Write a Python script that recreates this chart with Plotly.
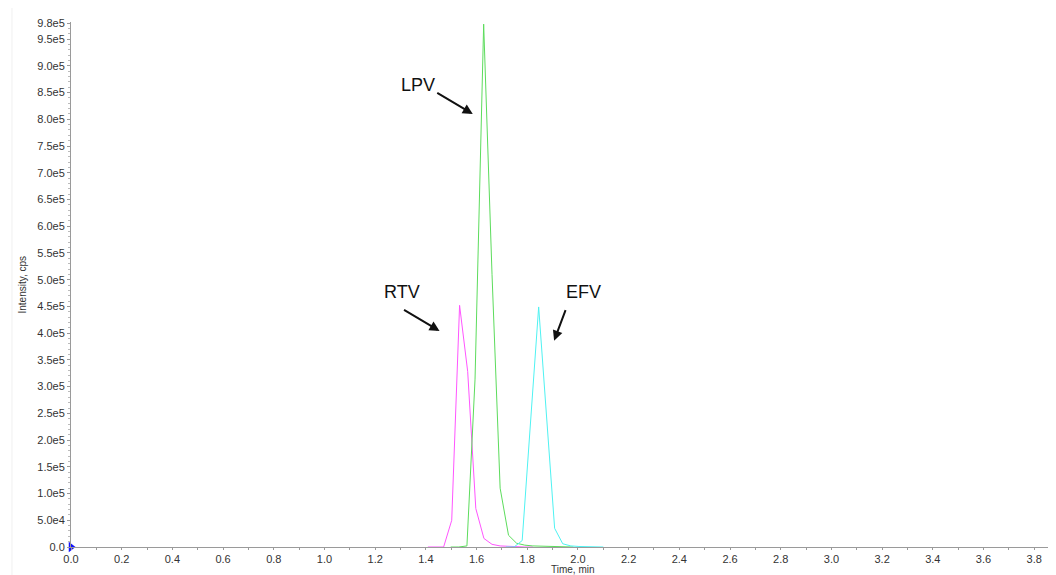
import plotly.graph_objects as go

# ---- data ----
rtv_time = [1.408, 1.440, 1.470, 1.502, 1.533, 1.565, 1.597, 1.629, 1.661, 1.693, 1.725, 1.757, 1.790, 1.822]
rtv_int = [0, 0, 0, 5.0e4, 4.52e5, 3.28e5, 7.2e4, 1.6e4, 5.0e3, 2.0e3, 1.0e3, 5.0e2, 0, 0]

lpv_time = [1.498, 1.530, 1.562, 1.594, 1.628, 1.661, 1.693, 1.726, 1.758, 1.790, 1.822, 1.854, 1.886, 1.918, 1.950, 1.982]
lpv_int = [0, 0, 2.0e3, 3.14e5, 9.78e5, 5.1e5, 1.1e5, 2.2e4, 7.0e3, 3.5e3, 2.0e3, 1.5e3, 1.0e3, 5.0e2, 0, 0]

efv_time = [1.716, 1.748, 1.780, 1.812, 1.845, 1.876, 1.908, 1.940, 1.972, 2.004, 2.036, 2.068, 2.100]
efv_int = [0, 0, 1.2e4, 2.3e5, 4.49e5, 2.45e5, 3.5e4, 6.0e3, 2.0e3, 1.0e3, 5.0e2, 0, 0]

origin_time = [0.0]
origin_int = [0.0]

x_tickvals = [0.0, 0.2, 0.4, 0.6, 0.8, 1.0, 1.2, 1.4, 1.6, 1.8, 2.0, 2.2, 2.4, 2.6, 2.8, 3.0, 3.2, 3.4, 3.6, 3.8]
x_ticktext = ["0.0", "0.2", "0.4", "0.6", "0.8", "1.0", "1.2", "1.4", "1.6", "1.8", "2.0",
              "2.2", "2.4", "2.6", "2.8", "3.0", "3.2", "3.4", "3.6", "3.8"]
y_tickvals = [0, 5e4, 1e5, 1.5e5, 2e5, 2.5e5, 3e5, 3.5e5, 4e5, 4.5e5, 5e5, 5.5e5, 6e5, 6.5e5,
              7e5, 7.5e5, 8e5, 8.5e5, 9e5, 9.5e5, 9.8e5]
y_ticktext = ["0.0", "5.0e4", "1.0e5", "1.5e5", "2.0e5", "2.5e5", "3.0e5", "3.5e5", "4.0e5", "4.5e5",
              "5.0e5", "5.5e5", "6.0e5", "6.5e5", "7.0e5", "7.5e5", "8.0e5", "8.5e5", "9.0e5", "9.5e5", "9.8e5"]

# peak labels: (text, label x, label y, arrow-head x, arrow-head y, arrow tail offset px)
peak_labels = ["LPV", "RTV", "EFV"]
label_x = [1.370, 1.307, 2.020]
label_y = [8.65e5, 4.77e5, 4.77e5]
arrow_x = [1.585, 1.454, 1.906]
arrow_y = [8.10e5, 4.04e5, 3.86e5]
arrow_ax = [-37, -37, 12]
arrow_ay = [-22, -22, -32]

FONT = "Liberation Sans, Arial, sans-serif"
AXIS_GRAY = "#9a9a9a"

fig = go.Figure()
fig.add_trace(go.Scatter(x=rtv_time, y=rtv_int, mode="lines", name="RTV",
                         line=dict(color="#ff55ff", width=1)))
fig.add_trace(go.Scatter(x=lpv_time, y=lpv_int, mode="lines", name="LPV",
                         line=dict(color="#5cdc5c", width=1)))
fig.add_trace(go.Scatter(x=efv_time, y=efv_int, mode="lines", name="EFV",
                         line=dict(color="#4ff2f2", width=1)))
fig.add_trace(go.Scatter(x=origin_time, y=origin_int, mode="markers", cliponaxis=False,
                         marker=dict(symbol="triangle-right", size=9, color="#1010ff"),
                         showlegend=False, hoverinfo="skip"))

annotations = []
for t, lx, ly, hx, hy, ax, ay in zip(peak_labels, label_x, label_y, arrow_x, arrow_y, arrow_ax, arrow_ay):
    annotations.append(dict(x=hx, y=hy, xref="x", yref="y", text="", showarrow=True,
                            ax=ax, ay=ay, arrowhead=2, arrowsize=1, arrowwidth=2, arrowcolor="#111"))
    annotations.append(dict(x=lx, y=ly, xref="x", yref="y", text=t, showarrow=False,
                            font=dict(family=FONT, size=18, color="#111")))

annotations.append(dict(x=-0.0497, y=0.5, xref="paper", yref="paper", text="Intensity, cps",
                        textangle=-90, showarrow=False, xanchor="center", yanchor="middle",
                        font=dict(family=FONT, size=10, color="#333")))
annotations.append(dict(x=0.5096, y=-0.0438, xref="paper", yref="paper", text="Time, min",
                        showarrow=False, xanchor="center", yanchor="middle",
                        font=dict(family=FONT, size=10, color="#333")))

# the page body adds an 8px margin, so the figure is 8px smaller to fill the 1056x575 window
fig.update_layout(
    width=1048, height=567,
    margin=dict(l=63, r=0, t=14, b=28),
    paper_bgcolor="white", plot_bgcolor="white",
    showlegend=False,
    font=dict(family=FONT, size=11, color="#333"),
    annotations=annotations,
    shapes=[dict(type="line", xref="paper", yref="paper", x0=-0.0599, x1=-0.0599, y0=-0.06, y1=1.03,
                 line=dict(color="#f0f0f0", width=1))],
    xaxis=dict(range=[0, 3.886], showgrid=False, zeroline=False,
               showline=True, linecolor=AXIS_GRAY, linewidth=1,
               tickmode="array", tickvals=x_tickvals, ticktext=x_ticktext,
               ticks="outside", ticklen=2, tickcolor=AXIS_GRAY,
               tickfont=dict(family=FONT, size=11, color="#333"),
               minor=dict(tickmode="linear", tick0=0, dtick=0.1, ticks="outside", ticklen=2,
                          tickcolor=AXIS_GRAY)),
    yaxis=dict(range=[0, 9.82e5], showgrid=False, zeroline=False,
               showline=True, linecolor=AXIS_GRAY, linewidth=1,
               tickmode="array", tickvals=y_tickvals, ticktext=y_ticktext,
               ticks="outside", ticklen=3, tickcolor=AXIS_GRAY,
               tickfont=dict(family=FONT, size=11, color="#333"),
               minor=dict(tickmode="linear", tick0=0, dtick=1e4, ticks="outside", ticklen=2,
                          tickcolor="#bbbbbb")),
)

fig.write_html("out.html", config={"displayModeBar": False})
